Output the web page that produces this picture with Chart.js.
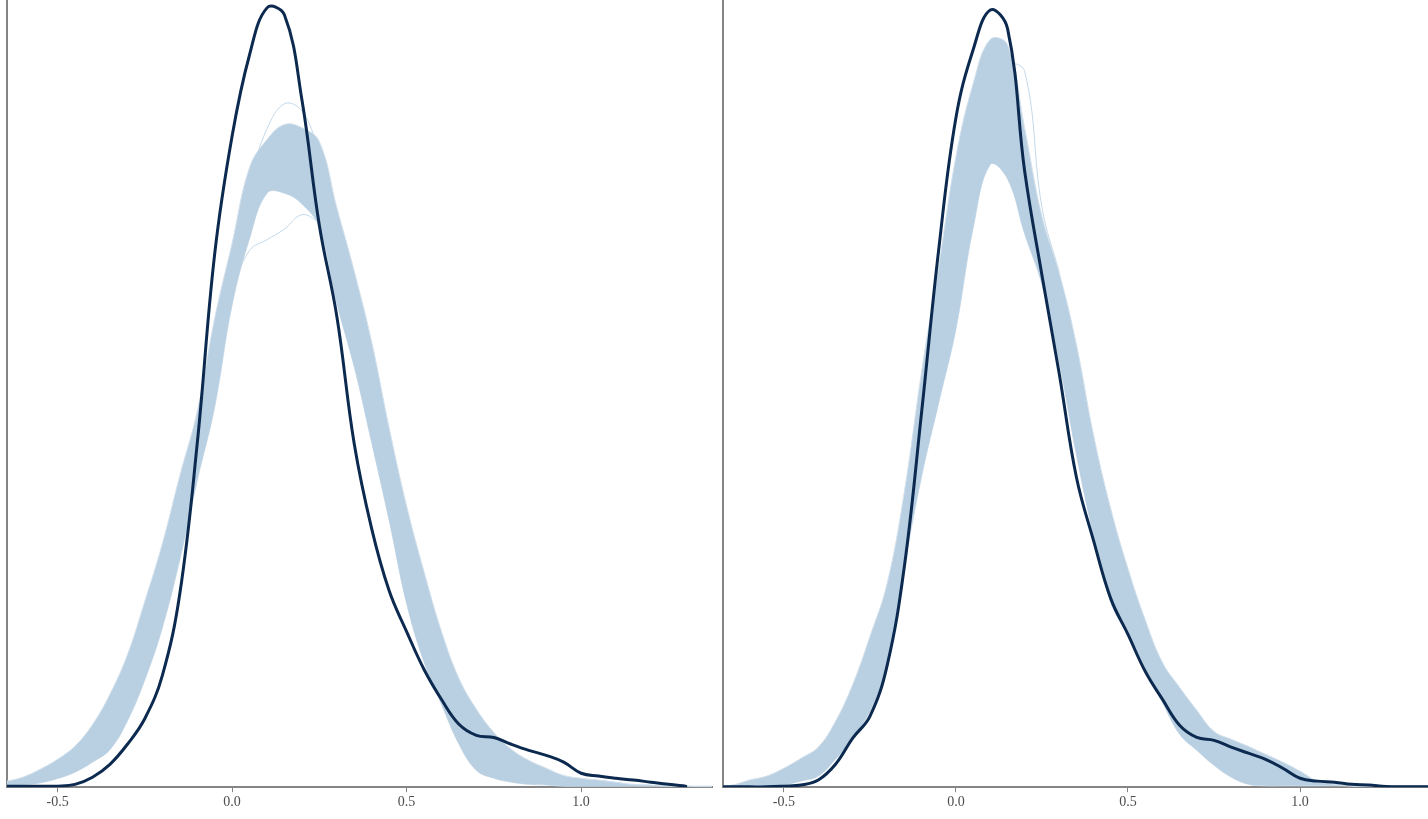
<!DOCTYPE html>
<html>
<head>
<meta charset="utf-8">
<script src="https://cdn.jsdelivr.net/npm/chart.js@4.4.1/dist/chart.umd.min.js"></script>
<style>
  html, body { margin: 0; padding: 0; background: #fff; }
  .panel { position: absolute; top: 0; width: 714px; height: 819px; }
  #left { left: 0; }
  #right { left: 714px; }
</style>
</head>
<body>
<div class="panel" id="left"><canvas id="chartLeft" width="714" height="819"></canvas></div>
<div class="panel" id="right"><canvas id="chartRight" width="714" height="819"></canvas></div>
<script>
// x grid shared by every curve (step 0.05)
const xGrid = [-0.70, -0.65, -0.60, -0.55, -0.50, -0.45, -0.40, -0.35, -0.30, -0.25, -0.20,
  -0.15, -0.10, -0.05, 0.00, 0.05, 0.10, 0.15, 0.20, 0.25, 0.30, 0.35, 0.40, 0.45, 0.50,
  0.55, 0.60, 0.65, 0.70, 0.75, 0.80, 0.85, 0.90, 0.95, 1.00, 1.05, 1.10, 1.15, 1.20,
  1.25, 1.30, 1.35, 1.40];

const xTicks = [-0.5, 0.0, 0.5, 1.0];

// left panel: observed density + envelope of the replicated densities
const obsLeft = [0.003, 0.003, 0.003, 0.003, 0.003, 0.008, 0.028, 0.064, 0.12, 0.192, 0.312,
  0.54, 0.96, 1.49, 1.82, 2.047, 2.178, 2.158, 1.921, 1.570, 1.316, 0.959, 0.722, 0.549, 0.435,
  0.329, 0.245, 0.176, 0.145, 0.139, 0.120, 0.103, 0.089, 0.070, 0.039, 0.031, 0.025, 0.020, 0.014,
  0.008, 0.003, null, null];
const repHiLeft = [0.008, 0.016, 0.028, 0.050, 0.078, 0.115, 0.175, 0.26, 0.37, 0.52, 0.68,
  0.87, 1.05, 1.31, 1.52, 1.732, 1.810, 1.852, 1.843, 1.804, 1.620, 1.442, 1.244, 1.004, 0.786,
  0.602, 0.435, 0.304, 0.218, 0.153, 0.106, 0.075, 0.053, 0.033, 0.025, 0.020, 0.014, 0.008, 0.006,
  0.003, 0.003, 0.001, 0.001];
const repLoLeft = [0.003, 0.005, 0.007, 0.012, 0.024, 0.042, 0.070, 0.105, 0.185, 0.30, 0.445,
  0.635, 0.856, 1.062, 1.347, 1.533, 1.66, 1.66, 1.63, 1.564, 1.352, 1.174, 0.962, 0.745, 0.513,
  0.349, 0.231, 0.120, 0.047, 0.025, 0.014, 0.008, 0.006, 0.003, 0.003, 0.003, 0.003, 0.003, 0.003,
  0.003, 0.003, 0.003, 0.003];
// single replicates that stand out of the band near the mode
const repTallLeft = [null, null, null, null, null, null, null, null, null, null, null,
  null, null, null, null, 1.70, 1.84, 1.91, 1.89, 1.78, null, null, null, null, null,
  null, null, null, null, null, null, null, null, null, null, null, null, null, null,
  null, null, null, null];
const repLowLeft = [null, null, null, null, null, null, null, null, null, null, null,
  null, null, 1.10, 1.38, 1.50, 1.53, 1.56, 1.60, 1.58, null, null, null, null, null,
  null, null, null, null, null, null, null, null, null, null, null, null, null, null,
  null, null, null, null];

// right panel
const obsRight = [0.001, 0.001, 0.001, 0.001, 0.003, 0.006, 0.020, 0.064, 0.137, 0.198, 0.340,
  0.616, 1.046, 1.503, 1.871, 2.061, 2.172, 2.12, 1.72, 1.431, 1.157, 0.867, 0.689, 0.527, 0.427,
  0.324, 0.246, 0.173, 0.139, 0.131, 0.112, 0.095, 0.078, 0.053, 0.025, 0.017, 0.014, 0.008, 0.006,
  0.002, 0.001, 0.001, 0.001];
const repHiRight = [0.003, 0.006, 0.020, 0.031, 0.053, 0.081, 0.112, 0.184, 0.287, 0.421, 0.569,
  0.825, 1.160, 1.456, 1.762, 1.966, 2.09, 2.075, 1.840, 1.595, 1.439, 1.238, 0.984, 0.778, 0.611,
  0.468, 0.349, 0.279, 0.215, 0.156, 0.134, 0.114, 0.092, 0.070, 0.045, 0.017, 0.008, 0.003, 0.002,
  0.002, 0.002, 0.002, 0.002];
const repLoRight = [0.001, 0.003, 0.003, 0.003, 0.006, 0.017, 0.031, 0.078, 0.137, 0.212, 0.340,
  0.616, 0.867, 1.074, 1.280, 1.562, 1.74, 1.70, 1.545, 1.405, 1.188, 0.929, 0.703, 0.516, 0.424,
  0.329, 0.237, 0.148, 0.103, 0.061, 0.028, 0.008, 0.004, 0.004, 0.004, 0.004, 0.004, 0.004, 0.004,
  0.004, 0.004, 0.004, 0.004];
const repTallRight = [null, null, null, null, null, null, null, null, null, null, null,
  null, null, null, null, null, 1.95, 2.02, 2.00, 1.62, 1.44, null, null, null, null,
  null, null, null, null, null, null, null, null, null, null, null, null, null, null,
  null, null, null, null];

const C = {
  y:       '#0c2a4f',
  rep:     '#b9cfe2',
  repEdge: '#d3e1ec',
  repLine: '#c4d8e8',
  axis:    '#858585',
  text:    '#4d4d4d',
};

const pts = arr => xGrid.map((x, i) => ({ x, y: arr[i] }));

function makePanel(id, obs, hi, lo, extra, xMin, xMax, pad) {
  const datasets = [
    { data: pts(obs), borderColor: C.y, borderWidth: 3, fill: false },
    { data: pts(hi), borderColor: C.repEdge, borderWidth: 1, backgroundColor: C.rep, fill: '+1' },
    { data: pts(lo), borderColor: C.repEdge, borderWidth: 1, fill: false },
  ];
  extra.forEach(arr => {
    datasets.push({ data: pts(arr), borderColor: C.repLine, borderWidth: 1, fill: false });
  });

  return new Chart(document.getElementById(id), {
    type: 'line',
    data: { datasets },
    options: {
      responsive: false,
      animation: false,
      layout: { padding: pad },
      elements: {
        point: { radius: 0 },
        line: { tension: 0.4, borderJoinStyle: 'round', borderCapStyle: 'round' },
      },
      plugins: { legend: { display: false }, tooltip: { enabled: false } },
      scales: {
        x: {
          type: 'linear',
          min: xMin,
          max: xMax,
          afterBuildTicks: axis => { axis.ticks = xTicks.map(v => ({ value: v })); },
          ticks: {
            callback: v => v.toFixed(1),
            font: { family: 'Liberation Serif', size: 14 },
            color: C.text,
            padding: 2,
            maxRotation: 0,
            autoSkip: false,
          },
          grid: { drawOnChartArea: false, tickLength: 5, color: C.axis, lineWidth: 1 },
          border: { display: true, color: C.axis, width: 2 },
        },
        y: {
          min: 0,
          max: 2.2,
          ticks: { display: false },
          grid: { display: false, drawTicks: false },
          border: { display: true, color: C.axis, width: 2 },
        },
      },
    },
  });
}

makePanel('chartLeft', obsLeft, repHiLeft, repLoLeft, [repTallLeft, repLowLeft], -0.645, 1.375,
  { left: 7, right: 2, top: 0, bottom: 6 });
makePanel('chartRight', obsRight, repHiRight, repLoRight, [repTallRight], -0.677, 1.372,
  { left: 9, right: 0, top: 0, bottom: 6 });
</script>
</body>
</html>
